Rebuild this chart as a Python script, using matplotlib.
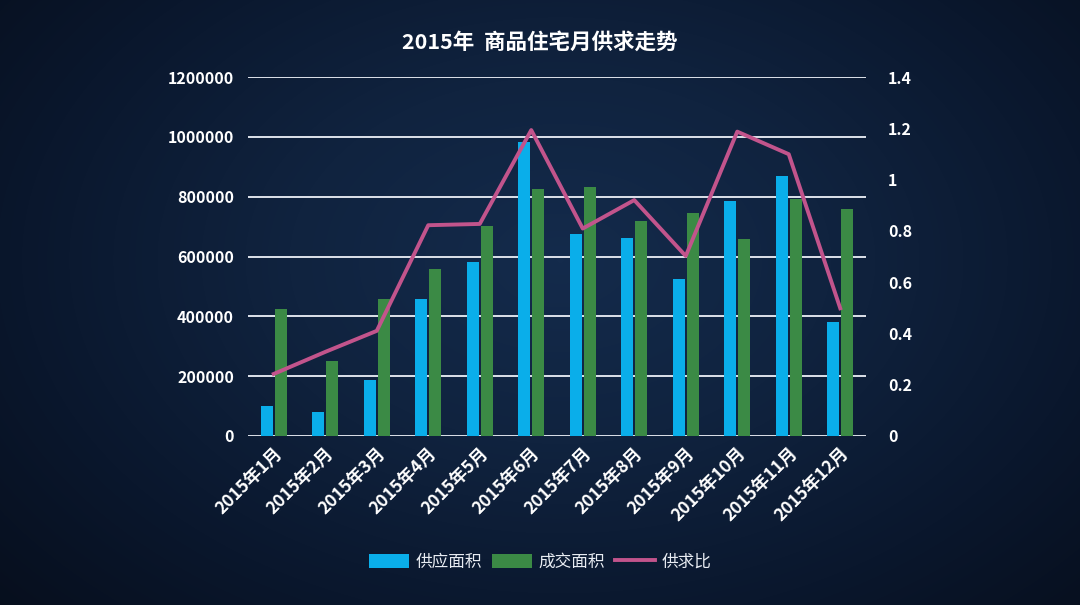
"""
2015 monthly supply / sales of commercial housing, bars + ratio line on dark background.
"""

import matplotlib

matplotlib.use("Agg")
import matplotlib.pyplot as plt
import numpy as np
from matplotlib.colors import LinearSegmentedColormap

plt.rcParams["font.family"] = ["Noto Sans CJK SC", "DejaVu Sans"]

months = [f"2015年{m}月" for m in range(1, 13)]
supply = [100000, 80000, 188000, 458000, 582000, 983000, 675000, 662000, 526000, 785000, 868000, 380000]
sales = [424000, 250000, 458000, 558000, 701000, 824000, 832000, 719000, 744000, 660000, 791000, 758000]
ratio = [0.242, 0.328, 0.41, 0.822, 0.827, 1.193, 0.809, 0.92, 0.702, 1.187, 1.099, 0.498]

left_ticks = [0, 200000, 400000, 600000, 800000, 1000000, 1200000]
right_ticks = [0, 0.2, 0.4, 0.6, 0.8, 1.0, 1.2, 1.4]
right_labels = ["0", "0.2", "0.4", "0.6", "0.8", "1", "1.2", "1.4"]

blue = "#0aaeea"
green = "#3b8a45"
pink = "#c2548c"
fg = "white"

fig = plt.figure(figsize=(10.8, 6.05), dpi=100)

# background: radial navy gradient
bg = fig.add_axes([0, 0, 1, 1], zorder=-10)
yy, xx = np.mgrid[0:605, 0:1080]
d = np.sqrt(((xx - 560) / 620.0) ** 2 + ((yy - 260) / 420.0) ** 2)
cmap = LinearSegmentedColormap.from_list("bg", ["#142b4c", "#10233f", "#0a172d", "#060d1a"])
bg.imshow(np.clip(d, 0, 1.3), cmap=cmap, aspect="auto", vmin=0, vmax=1.3)
bg.axis("off")

ax = fig.add_axes([248 / 1080, 1 - 436 / 605, 618 / 1080, 359 / 605])
ax.patch.set_alpha(0)
x = np.arange(len(months))
w = 0.23
b1 = ax.bar(x - 0.135, supply, w, color=blue, zorder=3, label="供应面积")
b2 = ax.bar(x + 0.135, sales, w, color=green, zorder=3, label="成交面积")
ax.set_xlim(-0.5, 11.5)
ax.set_ylim(0, 1200000)
ax.set_yticks(left_ticks)
ax.set_yticklabels([str(t) for t in left_ticks], fontsize=11.5, fontweight="bold", color=fg)
ax.grid(axis="y", color="#dde2ea", linewidth=1.4, zorder=0)
ax.tick_params(axis="both", length=0, pad=10)
for s in ax.spines.values():
    s.set_visible(False)
ax.set_xticks(x)
ax.set_xticklabels(months, rotation=45, ha="right", va="top", rotation_mode="anchor",
                   fontsize=12.5, fontweight="bold", color=fg)
ax.tick_params(axis="x", pad=6)

ax2 = ax.twinx()
(ln,) = ax2.plot(x, ratio, color=pink, linewidth=2.8, zorder=4, label="供求比")
ax2.set_ylim(0, 1.4)
ax2.set_yticks(right_ticks)
ax2.set_yticklabels(right_labels, fontsize=11.5, fontweight="bold", color=fg)
ax2.tick_params(axis="y", length=0, pad=16)
for s in ax2.spines.values():
    s.set_visible(False)

fig.text(0.5, 1 - 42 / 605, "2015年  商品住宅月供求走势", ha="center", va="center",
         fontsize=15.5, fontweight="bold", color=fg)

fig.legend([b1, b2, ln], ["供应面积", "成交面积", "供求比"], loc="center",
           bbox_to_anchor=(0.5, 1 - 562 / 605), ncol=3, frameon=False, fontsize=12,
           labelcolor="#e8ecf2", handlelength=2.4, handleheight=0.9, columnspacing=0.6,
           handletextpad=0.4)

fig.savefig("out.png", dpi=100)
